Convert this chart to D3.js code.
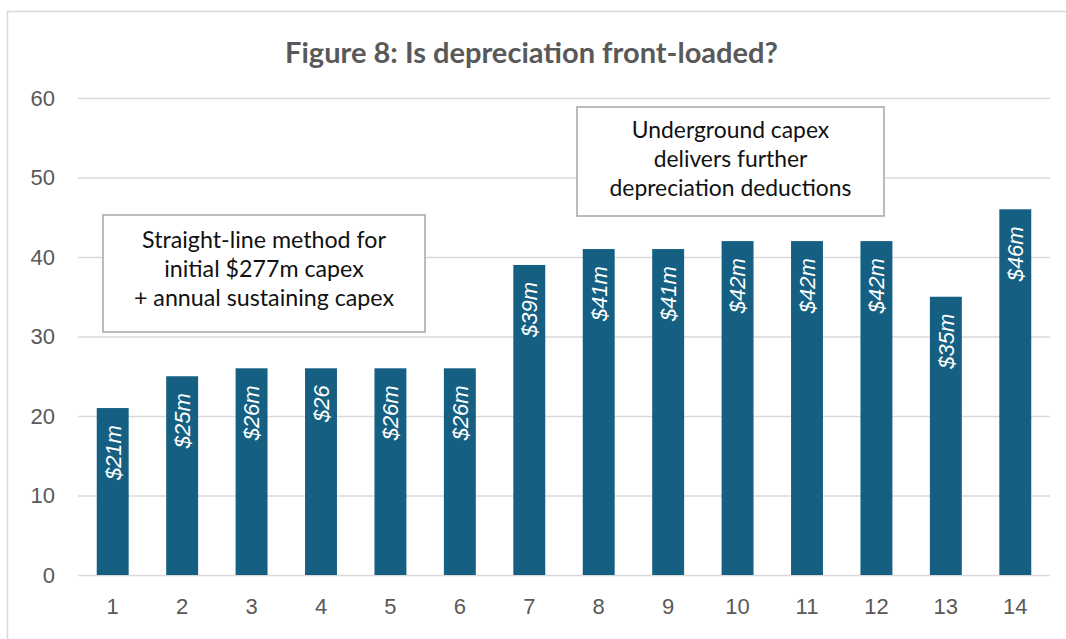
<!DOCTYPE html>
<html>
<head>
<meta charset="utf-8">
<script src="https://cdn.jsdelivr.net/npm/d3@7"></script>
<style>
  body { margin: 0; background: #fff; }
  svg { display: block; }
</style>
</head>
<body>
<div id="chart"></div>
<script>
// data
const years = ["1","2","3","4","5","6","7","8","9","10","11","12","13","14"];
const depreciation = [21, 25, 26, 26, 26, 26, 39, 41, 41, 42, 42, 42, 35, 46];
const barLabels = ["$21m","$25m","$26m","$26","$26m","$26m","$39m","$41m","$41m","$42m","$42m","$42m","$35m","$46m"];
const yTicks = [0, 10, 20, 30, 40, 50, 60];
const titleText = "Figure 8: Is depreciation front-loaded?";
const noteLeft = ["Straight-line method for", "initial $277m capex", "+ annual sustaining capex"];
const noteRight = ["Underground capex", "delivers further", "depreciation deductions"];

const W = 1066, H = 639;
const margin = {top: 98, right: 16, bottom: 64, left: 78};
const width = W - margin.left - margin.right;
const height = H - margin.top - margin.bottom;

const svg = d3.select("#chart").append("svg")
    .attr("width", W)
    .attr("height", H);

// outer frame (only top and left edges visible in the crop)
svg.append("path")
    .attr("d", `M7.5,${H} L7.5,11.5 L${W},11.5`)
    .attr("fill", "none")
    .attr("stroke", "#d9d9d9")
    .attr("stroke-width", 1.5);

const g = svg.append("g")
    .attr("transform", "translate(" + margin.left + "," + margin.top + ")");

const xScale = d3.scaleBand().domain(years).range([0, width]).paddingInner(0.54).paddingOuter(0.27);
const yScale = d3.scaleLinear().domain([0, 60]).range([height, 0]);

// gridlines + y labels
const yAxis = g.append("g")
    .call(d3.axisLeft(yScale).tickValues(yTicks).tickSize(-width).tickPadding(23));
yAxis.select(".domain").remove();
yAxis.selectAll(".tick line").attr("stroke", "#d9d9d9").attr("stroke-width", 1.5);
yAxis.selectAll(".tick text")
    .attr("fill", "#595959")
    .style("font-family", "'Liberation Sans', Arial, sans-serif")
    .style("font-size", "22px");

// x labels
const xAxis = g.append("g")
    .attr("transform", "translate(0," + height + ")")
    .call(d3.axisBottom(xScale).tickSize(0).tickPadding(23));
xAxis.select(".domain").remove();
xAxis.selectAll(".tick text")
    .attr("fill", "#595959")
    .style("font-family", "'Liberation Sans', Arial, sans-serif")
    .style("font-size", "22px");

// bars
g.selectAll(".bar")
    .data(depreciation)
    .join("rect")
    .attr("class", "bar")
    .attr("x", (d, i) => xScale(years[i]))
    .attr("width", xScale.bandwidth())
    .attr("y", d => yScale(d))
    .attr("height", d => height - yScale(d))
    .attr("fill", "#156082");

// rotated value labels inside the bar end
g.selectAll(".barLabel")
    .data(depreciation)
    .join("text")
    .attr("class", "barLabel")
    .attr("transform", (d, i) => {
        const cx = xScale(years[i]) + xScale.bandwidth() / 2;
        const top = yScale(d) + 17;
        return "translate(" + cx + "," + top + ") rotate(-90)";
    })
    .attr("text-anchor", "end")
    .attr("dy", "0.36em")
    .attr("fill", "#fff")
    .style("font-family", "'Liberation Sans', Arial, sans-serif")
    .style("font-style", "italic")
    .style("font-size", "22px")
    .text((d, i) => barLabels[i]);

// shrink/grow a text node so it fits a target width
function fitWidth(sel, target, base) {
    sel.style("font-size", base + "px");
    const w = sel.node().getComputedTextLength();
    sel.style("font-size", (base * target / w) + "px");
}

// title
const title = svg.append("text")
    .attr("x", 531.5)
    .attr("y", 63)
    .attr("text-anchor", "middle")
    .attr("fill", "#595959")
    .style("font-family", "Lato, 'Open Sans', sans-serif")
    .style("font-weight", "bold")
    .text(titleText);
fitWidth(title, 493, 26);

// annotation boxes
function noteBox(lines, box, baselines, widest) {
    svg.append("rect")
        .attr("x", box.x).attr("y", box.y)
        .attr("width", box.w).attr("height", box.h)
        .attr("fill", "#fff")
        .attr("stroke", "#a6a6a6")
        .attr("stroke-width", 1.5);
    const texts = svg.selectAll(null)
        .data(lines)
        .join("text")
        .attr("x", box.x + box.w / 2)
        .attr("y", (d, i) => baselines[i])
        .attr("text-anchor", "middle")
        .attr("fill", "#111")
        .style("font-family", "Lato, 'Open Sans', sans-serif")
        .text(d => d);
    const ref = texts.filter((d, i) => i === widest.index);
    ref.style("font-size", "20px");
    const w = ref.node().getComputedTextLength();
    texts.style("font-size", (20 * widest.width / w) + "px");
}

noteBox(noteLeft, {x: 103, y: 215, w: 322, h: 117}, [248, 277, 306], {index: 0, width: 244});
noteBox(noteRight, {x: 577, y: 107, w: 307, h: 109}, [138, 167, 196], {index: 2, width: 242});
</script>
</body>
</html>
